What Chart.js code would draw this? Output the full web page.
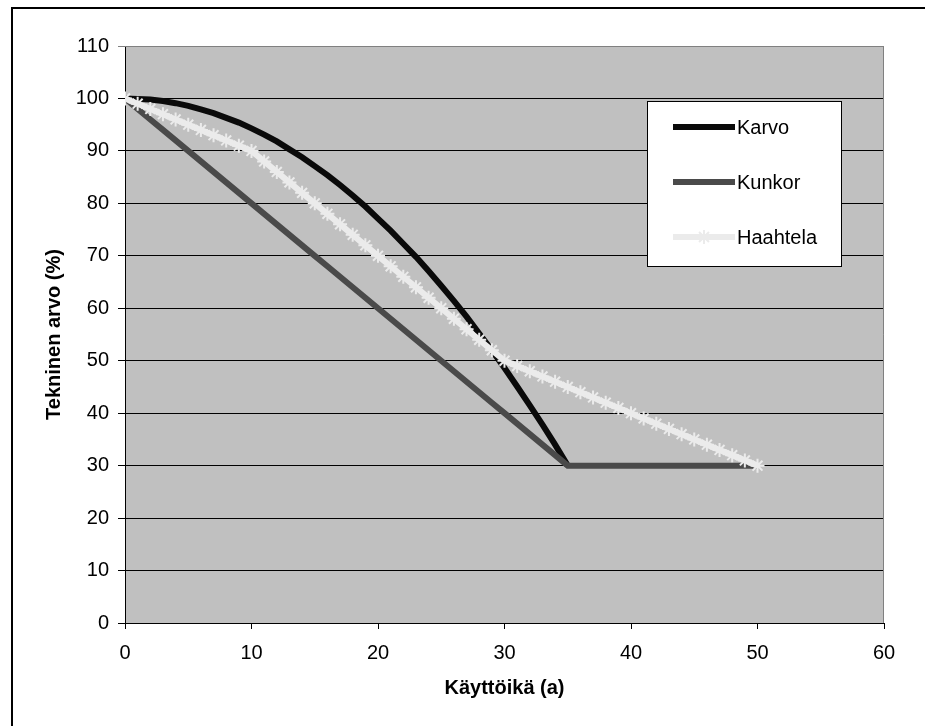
<!DOCTYPE html>
<html>
<head>
<meta charset="utf-8">
<script src="https://cdn.jsdelivr.net/npm/chart.js@4/dist/chart.umd.min.js"></script>
<style>
  html, body { margin: 0; padding: 0; background: #ffffff; overflow: hidden; }
  #wrap { width: 925px; height: 726px; position: relative; }
  canvas { display: block; }
</style>
</head>
<body>
<div id="wrap"><canvas id="c" width="925" height="726"></canvas></div>
<script>
// Service age in years
const years = [0,1,2,3,4,5,6,7,8,9,10,11,12,13,14,15,16,17,18,19,20,21,22,23,24,25,
  26,27,28,29,30,31,32,33,34,35,36,37,38,39,40,41,42,43,44,45,46,47,48,49,50];

// Technical value (%) by year for each depreciation model
const karvo = [100,99.9,99.8,99.5,99.1,98.6,97.9,97.2,96.3,95.4,94.3,93.1,91.8,90.3,88.8,87.1,
  85.4,83.5,81.5,79.4,77.1,74.8,72.3,69.8,67.1,64.3,61.4,58.4,55.2,52.0,48.6,45.1,41.5,37.8,34.0,30.0];
const kunkor = [100,98,96,94,92,90,88,86,84,82,80,78,76,74,72,70,68,66,64,62,60,58,56,54,52,50,
  48,46,44,42,40,38,36,34,32,30,30,30,30,30,30,30,30,30,30,30,30,30,30,30,30];
const haahtela = [100,99,98,97,96,95,94,93,92,91,90,88,86,84,82,80,78,76,74,72,70,68,66,64,62,60,
  58,56,54,52,50,49,48,47,46,45,44,43,42,41,40,39,38,37,36,35,34,33,32,31,30];

const seriesNames = ['Karvo', 'Kunkor', 'Haahtela'];
const xTicks = [0, 10, 20, 30, 40, 50, 60];
const yTicks = [0, 10, 20, 30, 40, 50, 60, 70, 80, 90, 100, 110];

const toPoints = vals => vals.map((v, i) => ({ x: years[i], y: v }));

const FONT = 'Liberation Sans, Arial, sans-serif';

// Frame around the whole figure, grey plot background and plot border
const framePlugin = {
  id: 'frame',
  beforeDraw(chart) {
    const ctx = chart.ctx;
    ctx.save();
    ctx.fillStyle = '#ffffff';
    ctx.fillRect(0, 0, chart.width, chart.height);
    ctx.strokeStyle = '#000000';
    ctx.lineWidth = 2;
    ctx.strokeRect(12, 8, 2000, 2000);
    const a = chart.chartArea;
    ctx.fillStyle = '#c0c0c0';
    ctx.fillRect(a.left, a.top, a.right - a.left, a.bottom - a.top);
    ctx.restore();
  },
  afterDatasetsDraw(chart) {
    const ctx = chart.ctx;
    const a = chart.chartArea;
    ctx.save();
    ctx.strokeStyle = '#808080';
    ctx.lineWidth = 1;
    ctx.beginPath();
    ctx.moveTo(a.left, a.top + 0.5);
    ctx.lineTo(a.right - 0.5, a.top + 0.5);
    ctx.lineTo(a.right - 0.5, a.bottom);
    ctx.stroke();
    ctx.restore();
  }
};

// Boxed legend inside the plot area
const boxLegend = {
  id: 'boxLegend',
  afterDraw(chart) {
    const ctx = chart.ctx;
    const box = { x: 647.5, y: 101.5, w: 194, h: 165 };
    ctx.save();
    ctx.fillStyle = '#ffffff';
    ctx.fillRect(box.x, box.y, box.w, box.h);
    ctx.strokeStyle = '#000000';
    ctx.lineWidth = 1;
    ctx.strokeRect(box.x, box.y, box.w, box.h);
    chart.data.datasets.forEach((ds, i) => {
      const cy = 127 + i * 55;
      ctx.strokeStyle = ds.borderColor;
      ctx.lineWidth = ds.borderWidth;
      ctx.lineCap = 'butt';
      ctx.beginPath();
      ctx.moveTo(673, cy);
      ctx.lineTo(735, cy);
      ctx.stroke();
      if (ds.pointStyle === 'star') {
        ctx.strokeStyle = ds.pointBorderColor;
        ctx.fillStyle = ds.pointBackgroundColor;
        ctx.lineWidth = ds.pointBorderWidth;
        Chart.helpers.drawPoint(ctx, {
          pointStyle: 'star', radius: ds.pointRadius, rotation: 0,
          borderWidth: ds.pointBorderWidth
        }, 704, cy);
      }
      ctx.fillStyle = '#000000';
      ctx.font = '20px ' + FONT;
      ctx.textBaseline = 'middle';
      ctx.textAlign = 'left';
      ctx.fillText(ds.label, 737, cy + 1);
    });
    ctx.restore();
  }
};

new Chart(document.getElementById('c'), {
  type: 'line',
  data: {
    datasets: [
      {
        label: seriesNames[0], data: toPoints(karvo), order: 3,
        borderColor: '#0a0a0a', backgroundColor: '#0a0a0a', borderWidth: 6,
        pointRadius: 0, tension: 0
      },
      {
        label: seriesNames[1], data: toPoints(kunkor), order: 2,
        borderColor: '#4a4a4a', backgroundColor: '#4a4a4a', borderWidth: 6,
        pointRadius: 0, tension: 0
      },
      {
        label: seriesNames[2], data: toPoints(haahtela), order: 1,
        borderColor: '#ebebeb', backgroundColor: '#ebebeb', borderWidth: 6,
        pointStyle: 'star', pointRadius: 7, pointBorderWidth: 2,
        pointBorderColor: '#ebebeb', pointBackgroundColor: '#ebebeb', tension: 0
      }
    ]
  },
  options: {
    responsive: false,
    animation: false,
    events: [],
    layout: { padding: { left: 0, top: 46, right: 41, bottom: 0 } },
    plugins: { legend: { display: false }, tooltip: { enabled: false } },
    scales: {
      x: {
        type: 'linear', min: 0, max: 60,
        afterFit: s => { s.height = 103; },
        afterBuildTicks: s => { s.ticks = xTicks.map(v => ({ value: v })); },
        grid: { drawOnChartArea: false, color: '#000000', tickLength: 6, lineWidth: 1 },
        border: { color: '#000000', width: 1 },
        ticks: { color: '#000000', font: { family: FONT, size: 20 }, padding: 12, maxRotation: 0 },
        title: {
          display: true, text: 'Käyttöikä (a)', color: '#000000',
          font: { family: FONT, size: 20, weight: 'bold' },
          padding: { top: 0, bottom: 26 }
        }
      },
      y: {
        type: 'linear', min: 0, max: 110,
        afterFit: s => { s.width = 125; },
        afterBuildTicks: s => { s.ticks = yTicks.map(v => ({ value: v })); },
        grid: {
          color: ctx => (ctx.tick && ctx.tick.value === 110 ? '#808080' : '#000000'),
          tickLength: 7, lineWidth: 1
        },
        border: { color: '#000000', width: 1 },
        ticks: { color: '#000000', font: { family: FONT, size: 20 }, padding: 9 },
        title: {
          display: true, text: 'Tekninen arvo (%)', color: '#000000',
          font: { family: FONT, size: 20, weight: 'bold' },
          padding: { top: 42, bottom: 0 }
        }
      }
    }
  },
  plugins: [framePlugin, boxLegend]
});
</script>
</body>
</html>
